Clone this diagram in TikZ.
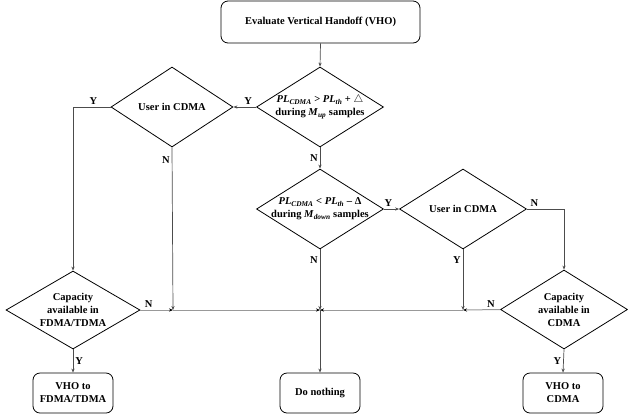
\documentclass[tikz,border=0pt]{standalone}
\usepackage{fontspec}
\setmainfont{Liberation Serif}
\usetikzlibrary{shapes.geometric,arrows.meta}
\tikzset{
  txt/.style={font=\fontsize{10.5}{13}\selectfont\bfseries, align=center, inner sep=0pt},
  rbox/.style={draw, line width=0.8pt, rounded corners=7pt, minimum width=80pt, minimum height=40pt, inner sep=0pt, txt},
  dia/.style={draw, shape=diamond, line width=0.8pt, minimum width=127pt, minimum height=80pt, inner sep=0pt},
  conn/.style={draw=black!70, line width=0.7pt, -{Stealth[length=4pt,width=3.2pt]}},
  hconn/.style={draw=black!40, line width=1pt, -{Stealth[length=4pt,width=3.2pt,color=black]}},
  lbl/.style={txt, inner sep=2pt}
}
\newcommand{\bi}[1]{\textbf{\textit{#1}}}
\begin{document}
\begin{tikzpicture}[x=1pt,y=-1pt]
\useasboundingbox (0,0) rectangle (628,416);
% boxes
\node[rbox, minimum width=199pt, minimum height=42pt] (top) at (320.5,22) {Evaluate Vertical Handoff (VHO)};
\node[rbox] (dn) at (320,393) {Do nothing};
\node[rbox] (vF) at (73,393) {VHO to\\FDMA/TDMA};
\node[rbox] (vC) at (563,393) {VHO to\\CDMA};
% diamonds
\node[dia] (d1) at (320,107) {};
\node[txt] (t1) at (d1.center) {\bi{PL}\textsubscript{\bi{CDMA}} \textgreater{} \bi{PL}\textsubscript{\bi{th}} + $\triangle$\\during \bi{M}\textsubscript{\bi{up}} samples};
\node[dia, minimum width=122pt] (d2) at (172,107) {};
\node[txt] (t2) at (d2.center) {User in CDMA};
\node[dia] (d3) at (320,209) {};
\node[txt] (t3) at (d3.center) {\bi{PL}\textsubscript{\bi{CDMA}} \textless{} \bi{PL}\textsubscript{\bi{th}} -- Δ\\during \bi{M}\textsubscript{\bi{down}} samples};
\node[dia] (d4) at (463,209) {};
\node[txt] (t4) at (d4.center) {User in CDMA};
\node[dia, minimum width=134pt, minimum height=78pt] (capF) at (73,310) {};
\node[txt] (t5) at (capF.center) {Capacity\\available in\\FDMA/TDMA};
\node[dia, minimum width=127pt, minimum height=79pt] (capC) at (564,309.5) {};
\node[txt] (t6) at (capC.center) {Capacity\\available in\\CDMA};
% junctions
\coordinate (j1) at (173,310);
\coordinate (j2) at (463,310);
\coordinate (c0) at (320,310);
% connectors
\draw[conn] (top.south) -- (d1.north);
\draw[conn] (d1.west) -- node[lbl, above, pos=0.35] {Y} (d2.east);
\draw[conn] (d2.west) -| node[lbl, above, pos=0.23] {Y} (capF.north);
\draw[conn] (d2.south) -- node[lbl, left, pos=0.08] {N} (j1);
\draw[hconn] (capF.east) -- node[lbl, above, pos=0.25] {N} (j1);
\draw[hconn] (j1) -- (c0);
\draw[conn] (d1.south) -- node[lbl, left, pos=0.5] {N} (d3.north);
\draw[conn] (d3.south) -- node[lbl, left, pos=0.18] {N} (c0);
\draw[conn] (d3.east) -- node[lbl, above, pos=0.3] {Y} (d4.west);
\draw[conn] (d4.east) -| node[lbl, above, pos=0.1] {N} (capC.north);
\draw[conn] (d4.south) -- node[lbl, left, pos=0.18] {Y} (j2);
\draw[hconn] (capC.west) -- node[lbl, above, pos=0.25] {N} (j2);
\draw[hconn] (j2) -- (c0);
\draw[conn] (c0) -- (dn.north);
\draw[conn] (capF.south) -- node[lbl, right, pos=0.5] {Y} (vF.north);
\draw[conn] (capC.south) -- node[lbl, left, pos=0.5] {Y} (vC.north);
\end{tikzpicture}
\end{document}
